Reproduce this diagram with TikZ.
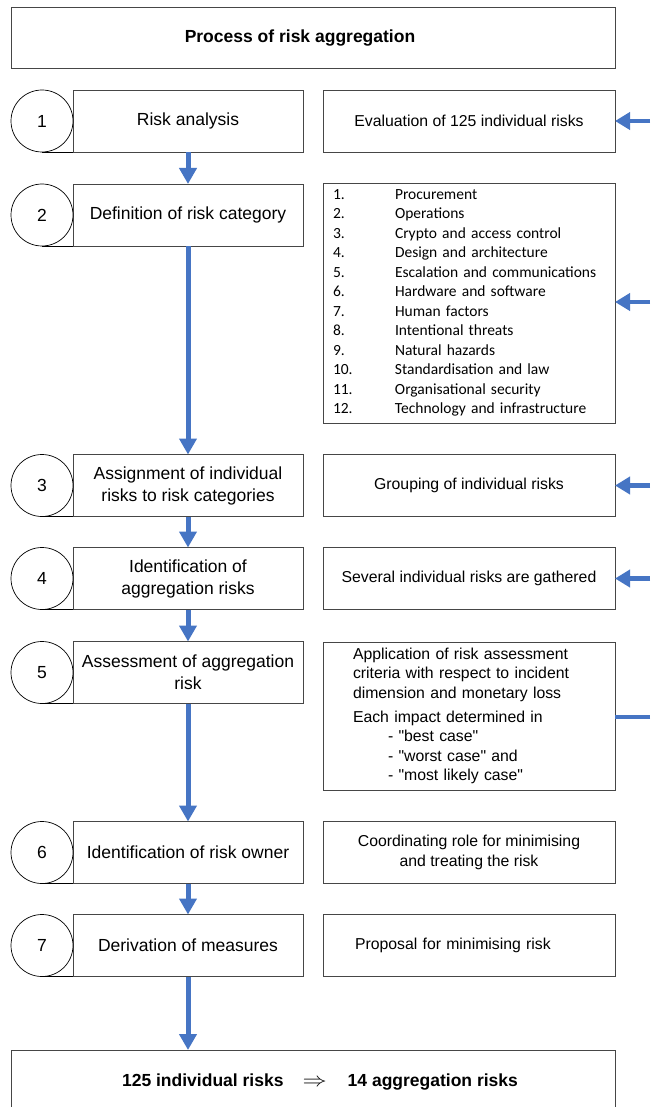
\documentclass[tikz,border=0pt]{standalone}
\usepackage{fontspec}
\setmainfont{Liberation Sans}
\newfontfamily\calibri{Carlito}
\usetikzlibrary{arrows.meta}
\definecolor{flowblue}{RGB}{70,117,196}
\definecolor{boxgray}{RGB}{70,70,70}
\begin{document}
\begin{tikzpicture}[x=1pt,y=-1pt,
  box/.style={draw=boxgray, line width=0.9pt, inner sep=0pt, outer sep=0pt},
  lbox/.style={box, minimum width=230pt, minimum height=62pt, align=center, font=\fontsize{17.5}{22}\selectfont},
  rbox/.style={box, minimum width=292pt, align=center, font=\fontsize{15.8}{19.5}\selectfont},
  num/.style={circle, draw=black, line width=0.7pt, minimum size=62pt, inner sep=0pt, outer sep=0pt, font=\fontsize{17.5}{22}\selectfont},
  flow/.style={draw=flowblue, line width=5pt, -{Triangle[width=17pt,length=16pt]}},
  side/.style={draw=flowblue, line width=4.5pt, -{Triangle[width=17pt,length=15pt]}},
  tick/.style={draw=black, line width=0.7pt},
]
\fill[white] (0,0) rectangle (650,1107);
\useasboundingbox (0,0) rectangle (650,1107);

% title
\node[box, minimum width=604pt, minimum height=61pt] (titlebox) at (313,37.5) {};
\node[font=\bfseries\fontsize{17.5}{22}\selectfont] (title) at (300,38.5) {Process of risk aggregation};

% left process boxes
\node[lbox] (l1) at (188,121) {Risk analysis};
\node[lbox] (l2) at (188,215) {Definition of risk category};
\node[lbox] (l3) at (188,485.5) {Assignment of individual\\risks to risk categories};
\node[lbox] (l4) at (188,578.5) {Identification of\\aggregation risks};
\node[lbox] (l5) at (188,672.5) {Assessment of aggregation\\risk};
\node[lbox] (l6) at (188,852.5) {Identification of risk owner};
\node[lbox] (l7) at (188,945.5) {Derivation of measures};

% number circles
\foreach \i/\y in {1/121,2/215,3/485.5,4/578.5,5/672.5,6/852.5,7/945.5}{
  \node[num] (c\i) at (42,\y) {\i};
  \draw[tick] (c\i.south) -- (l\i.south west);
}

% right description boxes
\node[rbox, minimum height=62pt] (r1) at (469,121) {Evaluation of 125 individual risks};
\node[rbox, minimum height=240pt, text width=272pt, inner xsep=10pt, align=left,
      font=\calibri\fontsize{15.5}{19.5}\selectfont] (r2) at (469,303)
  {\makebox[62pt][l]{1.}Procurement\\
   \makebox[62pt][l]{2.}Operations\\
   \makebox[62pt][l]{3.}Crypto and access control\\
   \makebox[62pt][l]{4.}Design and architecture\\
   \makebox[62pt][l]{5.}Escalation and communications\\
   \makebox[62pt][l]{6.}Hardware and software\\
   \makebox[62pt][l]{7.}Human factors\\
   \makebox[62pt][l]{8.}Intentional threats\\
   \makebox[62pt][l]{9.}Natural hazards\\
   \makebox[62pt][l]{10.}Standardisation and law\\
   \makebox[62pt][l]{11.}Organisational security\\
   \makebox[62pt][l]{12.}Technology and infrastructure};
\node[rbox, minimum height=62pt] (r3) at (469,485.5) {Grouping of individual risks};
\node[rbox, minimum height=62pt] (r4) at (469,578.5) {Several individual risks are gathered};
\node[rbox, minimum height=148pt, text width=232pt, inner xsep=30pt, align=left] (r5) at (469,716)
  {Application of risk assessment\\
   criteria with respect to incident\\
   dimension and monetary loss\\[4.5pt]
   Each impact determined in\\
   \hspace*{35pt}- \textquotedbl best case\textquotedbl\\
   \hspace*{35pt}- \textquotedbl worst case\textquotedbl{} and\\
   \hspace*{35pt}- \textquotedbl most likely case\textquotedbl};
\node[rbox, minimum height=62pt] (r6) at (469,852.5) {Coordinating role for minimising\\and treating the risk};
\node[rbox, minimum height=62pt, text width=228pt, inner xsep=32pt, align=left] (r7) at (469,945.5) {Proposal for minimising risk};

% result box
\node[box, minimum width=604pt, minimum height=80pt] (bottom) at (313,1090) {};
\node[font=\bfseries\fontsize{17.5}{22}\selectfont] (result) at (320,1082)
  {125 individual risks\hspace{19pt}\scalebox{1.4}[1.15]{$\Rightarrow$}\hspace{21pt}14 aggregation risks};

% downward flow arrows
\draw[flow] (l1.south) -- (l2.north);
\draw[flow] (l2.south) -- (l3.north);
\draw[flow] (l3.south) -- (l4.north);
\draw[flow] (l4.south) -- (l5.north);
\draw[flow] (l5.south) -- (l6.north);
\draw[flow] (l6.south) -- (l7.north);
\draw[flow] (l7.south) -- (l7.south |- bottom.north);

% side inputs
\coordinate (e1) at (650,121);
\coordinate (e2) at (650,302);
\coordinate (e3) at (650,485.5);
\coordinate (e4) at (650,578.5);
\coordinate (e5) at (650,717);
\draw[side] (e1) -- (e1 -| r1.east);
\draw[side] (e2) -- (e2 -| r2.east);
\draw[side] (e3) -- (e3 -| r3.east);
\draw[side] (e4) -- (e4 -| r4.east);
\draw[draw=flowblue, line width=4pt] (e5) -- (e5 -| r5.east);
\end{tikzpicture}
\end{document}
